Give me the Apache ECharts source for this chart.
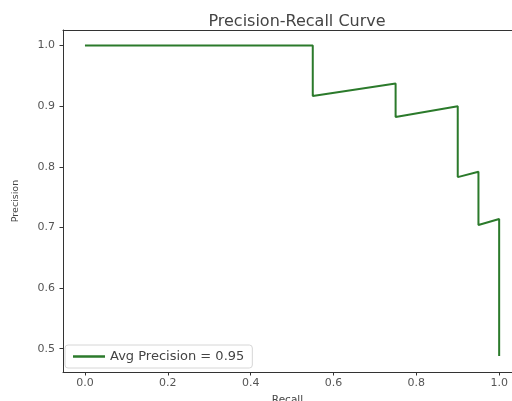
<!DOCTYPE html>
<html>
<head>
<meta charset="utf-8">
<script src="https://cdn.jsdelivr.net/npm/echarts@6/dist/echarts.min.js"></script>
<style>
  html, body { margin: 0; padding: 0; background: #fff; }
  #chart { width: 512px; height: 401px; }
</style>
</head>
<body>
<div id="chart"></div>
<script>
// PR curve corners
var recall = [0.0, 0.55, 0.55, 0.75, 0.75, 0.90, 0.90, 0.95, 0.95, 1.0, 1.0];
var precision = [1.0, 1.0, 0.917, 0.9375, 0.882, 0.90, 0.783, 0.792, 0.704, 0.714, 0.488];
var xTicks = [0.0, 0.2, 0.4, 0.6, 0.8, 1.0];
var yTicks = [0.5, 0.6, 0.7, 0.8, 0.9, 1.0];
var seriesName = 'Avg Precision = 0.95';

var points = recall.map(function (r, i) { return [r, precision[i]]; });

var chart = echarts.init(document.getElementById('chart'));
var font = 'DejaVu Sans';
var axisColor = '#333';
var option = {
    animation: false,
    title: {
        text: 'Precision-Recall Curve',
        left: 292,
        textAlign: 'center',
        top: 9,
        textStyle: { fontFamily: font, fontSize: 16, fontWeight: 'normal', color: '#444' }
    },
    grid: {
        left: 63,
        right: 0,
        top: 30,
        bottom: 29,
        outerBoundsMode: 'none'
    },
    legend: {
        left: 65,
        top: 345,
        orient: 'vertical',
        data: [{ name: seriesName, icon: 'rect' }],
        itemWidth: 32,
        itemHeight: 2.5,
        itemGap: 8,
        padding: [5, 8, 5, 8],
        borderColor: '#d6d6d6',
        borderWidth: 1,
        borderRadius: 3,
        textStyle: { fontFamily: font, fontSize: 13, color: '#444' }
    },
    xAxis: [{
        type: 'value',
        min: -0.053,
        max: 1.031,
        name: 'Recall',
        nameLocation: 'middle',
        nameGap: 23,
        nameTextStyle: { fontFamily: font, fontSize: 10.5, color: '#444' },
        axisLine: { show: true, onZero: false, lineStyle: { color: axisColor } },
        axisTick: { show: true, length: 3.5, customValues: xTicks, lineStyle: { color: axisColor } },
        axisLabel: {
            customValues: xTicks,
            fontFamily: font, fontSize: 11, color: '#555', margin: 6,
            formatter: function (v) { return v.toFixed(1); }
        },
        splitLine: { show: false }
    }, {
        // top spine only
        type: 'value',
        position: 'top',
        min: -0.053,
        max: 1.031,
        axisLine: { show: true, onZero: false, lineStyle: { color: axisColor } },
        axisTick: { show: false },
        axisLabel: { show: false },
        splitLine: { show: false }
    }],
    yAxis: {
        type: 'value',
        min: 0.4615,
        max: 1.0257,
        name: 'Precision',
        nameLocation: 'middle',
        nameGap: 42,
        nameTextStyle: { fontFamily: font, fontSize: 9.5, color: '#444' },
        axisLine: { show: true, onZero: false, lineStyle: { color: axisColor } },
        axisTick: { show: true, length: 3.5, customValues: yTicks, lineStyle: { color: axisColor } },
        axisLabel: {
            customValues: yTicks,
            fontFamily: font, fontSize: 11, color: '#555', margin: 8,
            formatter: function (v) { return v.toFixed(1); }
        },
        splitLine: { show: false }
    },
    series: [{
        name: seriesName,
        type: 'line',
        data: points,
        showSymbol: false,
        itemStyle: { color: '#2b7a2b' },
        lineStyle: { color: '#2b7a2b', width: 2 }
    }]
};
chart.setOption(option);
</script>
</body>
</html>
